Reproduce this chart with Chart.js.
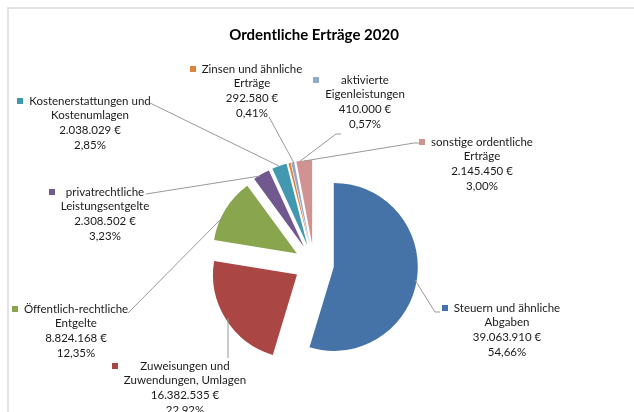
<!DOCTYPE html>
<html>
<head>
<meta charset="utf-8">
<script src="https://cdn.jsdelivr.net/npm/chart.js@4.4.0/dist/chart.umd.min.js"></script>
<style>
html,body{margin:0;padding:0;background:#fff;}
#wrap{position:relative;width:634px;height:412px;overflow:hidden;}
#frame{position:absolute;left:7px;top:7px;width:700px;height:500px;border-left:2px solid #e3e3e3;border-top:2px solid #e3e3e3;}
#c{position:absolute;left:0;top:0;}
</style>
</head>
<body>
<div id="wrap"><div id="frame"></div><canvas id="c" width="634" height="412"></canvas></div>
<script>
/* Ordentliche Ertraege 2020 - exploded pie */
const title='Ordentliche Erträge 2020';
const categories=[
  ['Steuern und ähnliche','Abgaben'],
  ['Zuweisungen und','Zuwendungen, Umlagen'],
  ['Öffentlich-rechtliche','Entgelte'],
  ['privatrechtliche','Leistungsentgelte'],
  ['Kostenerstattungen und','Kostenumlagen'],
  ['Zinsen und ähnliche','Erträge'],
  ['aktivierte','Eigenleistungen'],
  ['sonstige ordentliche','Erträge']
];
const values=[39063910,16382535,8824168,2308502,2038029,292580,410000,2145450];
const colors=['#4572A7','#AA4643','#89A54E','#71588F','#4198AF','#DB843D','#93A9CF','#D19392'];

(function(){
  const FONT='Lato, "Open Sans", sans-serif';
  const EXPLODE=20, LH=14.7;
  // label blocks: text centre x, first line y, leader line points
  const place=[
    {cx:507,y:308,line:[[415,280],[435,312],[440,312]]},
    {cx:185,y:366,line:[[228,318],[228,358]]},
    {cx:76,y:309,line:[[128,313],[223,217]]},
    {cx:105,y:192,line:[[146,194],[260,176]]},
    {cx:90,y:101,line:[[150,103],[279,166]]},
    {cx:252,y:69,line:[[269,117],[294,163]]},
    {cx:365,y:80,line:[[341,134],[336,134],[299,162]]},
    {cx:482,y:142,line:[[304,161],[414,143],[420,143]]}
  ];
  const total=values.reduce((a,b)=>a+b,0);
  function euro(v){return String(v).replace(/\B(?=(\d{3})+(?!\d))/g,'.')+' €';}
  function pct(v){return (v/total*100).toFixed(2).replace('.',',')+'%';}

  const explode={id:'explode',beforeDatasetDraw(chart,args){
    const ctx=chart.ctx;
    args.meta.data.forEach(arc=>{
      const mid=(arc.startAngle+arc.endAngle)/2;
      ctx.save();ctx.translate(Math.cos(mid)*EXPLODE,Math.sin(mid)*EXPLODE);arc.draw(ctx);ctx.restore();
    });
    return false;
  }};
  const labelsPlugin={id:'sliceLabels',afterDraw(chart){
    const ctx=chart.ctx;ctx.save();
    ctx.strokeStyle='#999';ctx.lineWidth=1;
    place.forEach(p=>{ctx.beginPath();p.line.forEach((pt,k)=>k?ctx.lineTo(pt[0],pt[1]):ctx.moveTo(pt[0],pt[1]));ctx.stroke();});
    ctx.font='11.5px '+FONT;ctx.textAlign='center';ctx.textBaseline='middle';
    categories.forEach((cat,i)=>{
      const p=place[i];const lines=cat.concat([euro(values[i]),pct(values[i])]);
      const w=Math.max(...lines.map(s=>ctx.measureText(s).width));
      ctx.fillStyle=colors[i];ctx.fillRect(Math.round(p.cx-w/2-12),Math.round(p.y-3),6,6);
      ctx.fillStyle='#1a1a1a';
      lines.forEach((s,k)=>ctx.fillText(s,p.cx,p.y+k*LH));
    });
    ctx.restore();
  }};

  new Chart(document.getElementById('c'),{type:'pie',
    data:{labels:categories.map(c=>c.join(' ')),datasets:[{data:values,backgroundColor:colors,borderWidth:0,radius:84}]},
    options:{responsive:false,animation:false,radius:84,
      layout:{padding:{left:0,right:6,top:0,bottom:0}},
      plugins:{legend:{display:false},tooltip:{enabled:false},
        title:{display:true,text:title,color:'#000',font:{family:FONT,size:15,weight:'bold',lineHeight:1.2},padding:{top:26,bottom:72}}}},
    plugins:[explode,labelsPlugin]});
})();
</script>
</body>
</html>
